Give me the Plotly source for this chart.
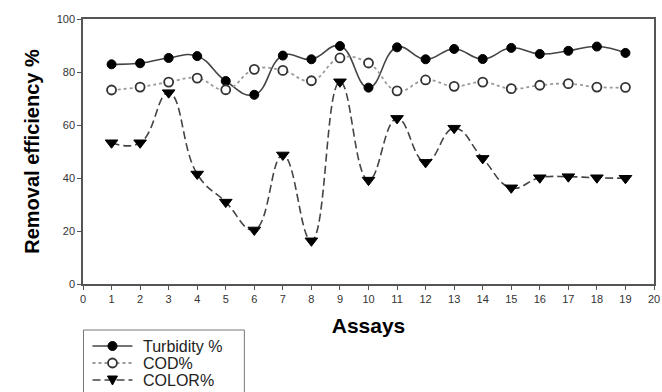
import plotly.graph_objects as go

# Assay numbers and removal efficiencies (%)
assays = list(range(1, 20))
turbidity = [82.9, 83.3, 85.3, 86.0, 76.6, 71.4, 86.2, 84.8, 89.8, 74.1,
             89.3, 84.8, 88.7, 84.9, 89.1, 86.8, 88.0, 89.6, 87.2]
cod = [73.2, 74.3, 76.2, 77.7, 73.3, 81.0, 80.6, 76.7, 85.3, 83.4,
       72.9, 77.0, 74.6, 76.2, 73.7, 75.0, 75.6, 74.3, 74.2]
color = [53.3, 53.3, 72.2, 41.5, 30.9, 20.4, 48.7, 16.3, 76.3, 39.2,
         62.5, 45.9, 58.8, 47.4, 36.3, 40.1, 40.5, 40.1, 39.9]

series_names = ["Turbidity %", "COD%", "COLOR%"]
x_ticks = list(range(0, 21))
y_ticks = [0, 20, 40, 60, 80, 100]

FONT = "Liberation Sans, Arial, sans-serif"
AXIS_COLOR = "#555555"

W, H = 662, 392
M_L, M_R, M_T, M_B = 82.5, 8, 19, 108
PLOT_W = W - M_L - M_R
PLOT_H = H - M_T - M_B


def px_to_paper(px, py):
    return (px - M_L) / PLOT_W, (H - M_B - py) / PLOT_H


styles = [
    dict(line=dict(color="#444444", width=1.6, dash="solid"),
         marker=dict(symbol="circle", size=9, color="black",
                     line=dict(color="black", width=1))),
    dict(line=dict(color="#9a9a9a", width=1.8, dash="dot"),
         marker=dict(symbol="circle", size=9, color="white",
                     line=dict(color="#333333", width=1.8))),
    dict(line=dict(color="#444444", width=1.6, dash="8px,4px"),
         marker=dict(symbol="triangle-down", size=11, color="black",
                     line=dict(color="black", width=1))),
]

fig = go.Figure()
for name, values, st in zip(series_names, [turbidity, cod, color], styles):
    fig.add_trace(go.Scatter(
        x=assays, y=values, name=name, mode="lines+markers",
        line=dict(**st["line"], shape="spline", smoothing=1.3),
        marker=st["marker"], showlegend=False,
    ))

# Compact boxed key below the axes (left side)
shapes = []
annotations = []
bx0, by0 = px_to_paper(83, 330)
bx1, by1 = px_to_paper(244, 410)
shapes.append(dict(type="rect", xref="paper", yref="paper",
                   x0=bx0, x1=bx1, y0=by1, y1=by0,
                   line=dict(color="#777777", width=1), fillcolor="white",
                   layer="above"))
row_y = [346, 363, 380]
for name, st, ry in zip(series_names, styles, row_y):
    lx0, ly = px_to_paper(92, ry)
    lx1, _ = px_to_paper(132, ry)
    mx, _ = px_to_paper(112, ry)
    shapes.append(dict(type="line", xref="paper", yref="paper",
                       x0=lx0, x1=lx1, y0=ly, y1=ly, layer="above",
                       line=dict(color=st["line"]["color"], width=st["line"]["width"],
                                 dash=st["line"]["dash"])))
    mk = st["marker"]
    if mk["symbol"] == "circle":
        r = mk["size"] / 2
        shapes.append(dict(type="circle", xref="paper", yref="paper",
                           xsizemode="pixel", ysizemode="pixel",
                           xanchor=mx, yanchor=ly, x0=-r, x1=r, y0=-r, y1=r,
                           fillcolor=mk["color"], layer="above",
                           line=dict(color=mk["line"]["color"], width=mk["line"]["width"])))
    else:
        shapes.append(dict(type="path", xref="paper", yref="paper",
                           xsizemode="pixel", ysizemode="pixel",
                           xanchor=mx, yanchor=ly,
                           path="M -5 4 L 5 4 L 0 -5 Z",
                           fillcolor=mk["color"], layer="above",
                           line=dict(color=mk["line"]["color"], width=1)))
    tx, _ = px_to_paper(141, ry)
    annotations.append(dict(text=name, xref="paper", yref="paper", x=tx, y=ly,
                            xanchor="left", yanchor="middle", showarrow=False,
                            font=dict(size=16, color="#222222", family=FONT)))

fig.update_layout(
    width=W, height=H,
    margin=dict(l=M_L, r=M_R, t=M_T, b=M_B, autoexpand=False),
    paper_bgcolor="white", plot_bgcolor="white",
    font=dict(family=FONT, color="#333333"),
    showlegend=False,
    shapes=shapes, annotations=annotations,
)

fig.update_xaxes(
    range=[0, 20], tickvals=x_ticks, ticktext=[str(v) for v in x_ticks],
    showgrid=False, zeroline=False,
    showline=True, linecolor=AXIS_COLOR, linewidth=1.5, mirror=True,
    ticks="outside", ticklen=4, tickwidth=1.2, tickcolor=AXIS_COLOR,
    tickfont=dict(size=11, color="#333333"),
    title=dict(text="<b>Assays</b>", font=dict(size=21, color="black"), standoff=14),
)
fig.update_yaxes(
    range=[0, 100], tickvals=y_ticks,
    showgrid=False, zeroline=False,
    showline=True, linecolor=AXIS_COLOR, linewidth=1.5, mirror=True,
    ticks="outside", ticklen=4, tickwidth=1.2, tickcolor=AXIS_COLOR,
    tickfont=dict(size=11, color="#333333"),
    title=dict(text="<b>Removal efficiency %</b>", font=dict(size=20, color="black"), standoff=12),
)

fig.write_html("out.html")
